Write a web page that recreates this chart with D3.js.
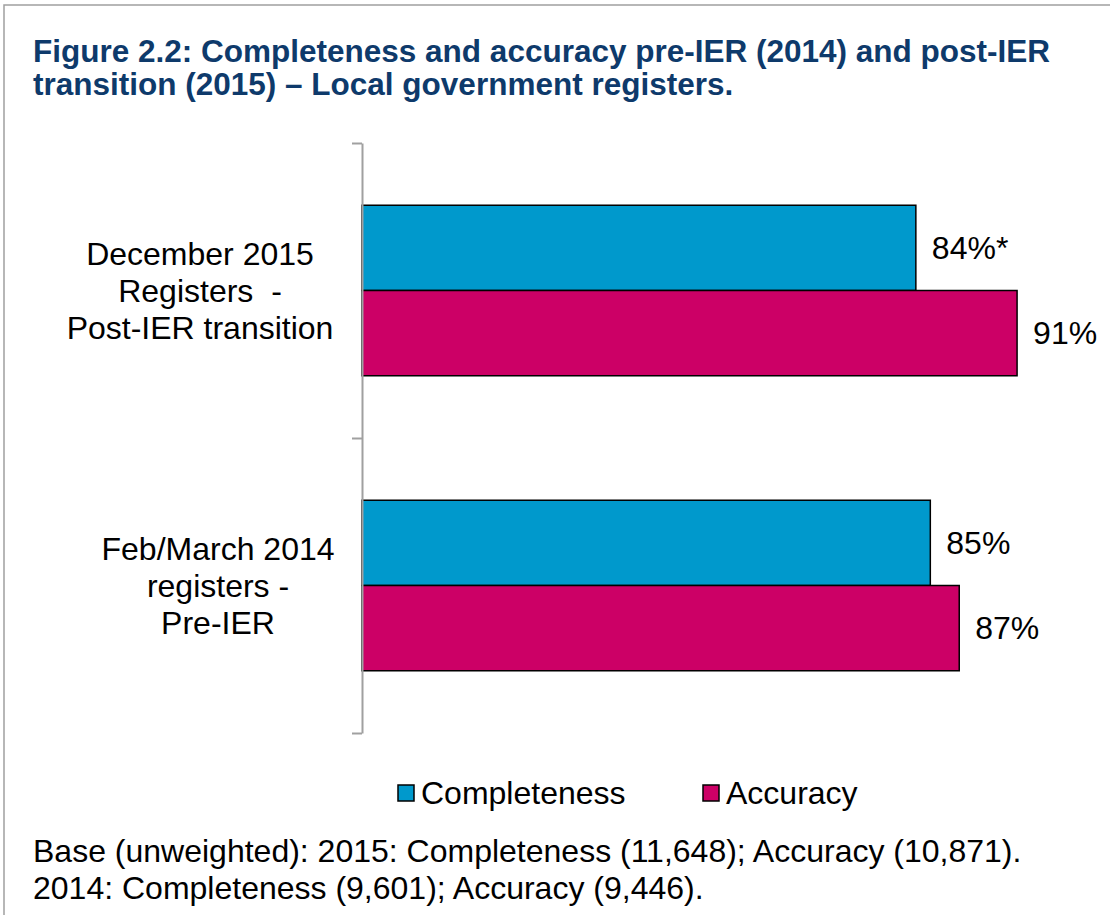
<!DOCTYPE html>
<html>
<head>
<meta charset="utf-8">
<script src="https://cdn.jsdelivr.net/npm/d3@7"></script>
<style>
  body { margin: 0; background: #fff; }
  svg { display: block; font-family: "Liberation Sans", Arial, sans-serif; }
  text { white-space: pre; }
</style>
</head>
<body>
<div id="chart"></div>
<script>
// data
const categories = [
  ["December 2015", "Registers  -", "Post-IER transition"],
  ["Feb/March 2014", "registers -", "Pre-IER"]
];
const seriesNames = ["Completeness", "Accuracy"];
const completeness = [0.84, 0.85];
const accuracy = [0.91, 0.87];
const valueLabels = [["84%*", "91%"], ["85%", "87%"]];
const colors = ["#0099CC", "#CC0066"];

const titleLines = [
  "Figure 2.2: Completeness and accuracy pre-IER (2014) and post-IER",
  "transition (2015) \u2013 Local government registers."
];
const noteLines = [
  "Base (unweighted): 2015: Completeness (11,648); Accuracy (10,871).",
  "2014: Completeness (9,601); Accuracy (9,446)."
];

// label blocks are centred differently in the source
const labelCenters = [200, 218];

const data = categories.map((c, i) => ({
  key: i,
  lines: c,
  values: [completeness[i], accuracy[i]],
  labels: valueLabels[i]
}));

// create svg canvas
const svg = d3.select("#chart")
  .append("svg")
  .attr("width", 1110)
  .attr("height", 915);

// frame (only top and left edges visible)
svg.append("path")
  .attr("d", "M4,915 V5 H1110")
  .attr("fill", "none")
  .attr("stroke", "#A0A0A0")
  .attr("stroke-width", 1.5);

// title
svg.append("g")
  .selectAll("text")
  .data(titleLines)
  .join("text")
  .attr("x", 33)
  .attr("y", (d, i) => 62 + i * 33)
  .attr("fill", "#0E3A6B")
  .attr("font-weight", "bold")
  .attr("font-size", 31.5)
  .text(d => d);

// scales
const yScale = d3.scaleBand()
  .domain(data.map(d => d.key))
  .range([143, 733])
  .padding(0);

const ySub = d3.scaleBand()
  .domain(seriesNames)
  .range([0, yScale.bandwidth()])
  .paddingInner(0)
  .paddingOuter(0.73);

// axis origin is not 0 in the source chart
const xScale = d3.scaleLinear()
  .domain([0.457, 0.93])
  .range([362, 1046]);

// bars
const groups = svg.append("g")
  .selectAll("g")
  .data(data)
  .join("g")
  .attr("transform", d => `translate(0,${yScale(d.key)})`);

groups.selectAll("rect")
  .data(d => d.values.map((v, j) => ({ v, name: seriesNames[j], j })))
  .join("rect")
  .attr("x", xScale(xScale.domain()[0]))
  .attr("y", d => ySub(d.name))
  .attr("width", d => xScale(d.v) - xScale(xScale.domain()[0]))
  .attr("height", ySub.bandwidth())
  .attr("fill", d => colors[d.j])
  .attr("stroke", "#000")
  .attr("stroke-width", 1.5);

groups.selectAll("text.value")
  .data(d => d.values.map((v, j) => ({ v, name: seriesNames[j], label: d.labels[j] })))
  .join("text")
  .attr("class", "value")
  .attr("x", d => xScale(d.v) + 16)
  .attr("y", d => ySub(d.name) + ySub.bandwidth() / 2)
  .attr("dy", "0.35em")
  .attr("font-size", 32)
  .attr("fill", "#000")
  .text(d => d.label);

// category labels
groups.append("g")
  .attr("transform", d => `translate(${labelCenters[d.key]},0)`)
  .selectAll("text")
  .data(d => d.lines)
  .join("text")
  .attr("x", 0)
  .attr("y", (d, i) => yScale.bandwidth() / 2 + (i - 1) * 37)
  .attr("dy", "0.35em")
  .attr("text-anchor", "middle")
  .attr("font-size", 32)
  .attr("fill", "#000")
  .text(d => d);

// vertical axis with ticks at category boundaries
const boundary = d3.scaleLinear()
  .domain([0, data.length])
  .range(yScale.range());

const axis = svg.append("g")
  .attr("transform", "translate(362,0)")
  .call(d3.axisLeft(boundary)
    .tickValues(d3.range(data.length + 1))
    .tickSize(10)
    .tickSizeOuter(0)
    .tickFormat(""));
axis.selectAll("path, line")
  .attr("stroke", "#A0A0A0")
  .attr("stroke-width", 2);

// legend
const legend = svg.append("g")
  .selectAll("g")
  .data(seriesNames)
  .join("g")
  .attr("transform", (d, i) => `translate(${[398, 703][i]},793)`);

legend.append("rect")
  .attr("x", 0)
  .attr("y", -8)
  .attr("width", 16)
  .attr("height", 16)
  .attr("fill", (d, i) => colors[i])
  .attr("stroke", "#000")
  .attr("stroke-width", 1.5);

legend.append("text")
  .attr("x", 23)
  .attr("dy", "0.35em")
  .attr("font-size", 32)
  .attr("fill", "#000")
  .text(d => d);

// base note
svg.append("g")
  .selectAll("text")
  .data(noteLines)
  .join("text")
  .attr("x", 33)
  .attr("y", (d, i) => 851 + i * 37)
  .attr("dy", "0.35em")
  .attr("font-size", 32)
  .attr("fill", "#000")
  .text(d => d);
</script>
</body>
</html>
